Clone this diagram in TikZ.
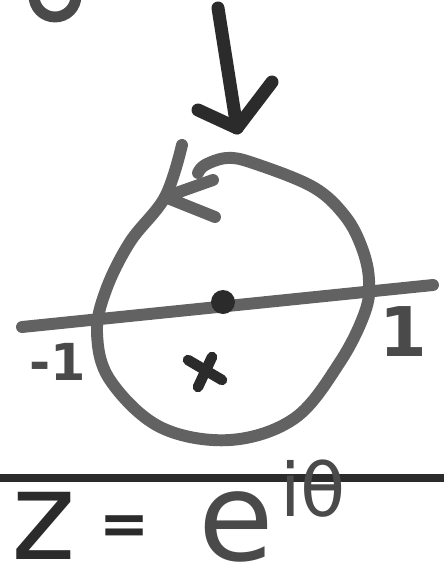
\documentclass[tikz,border=0pt]{standalone}
\usepackage{fontspec}
\usepackage{xcolor}
\usepackage{tikz}
\usetikzlibrary{positioning}
\setmainfont{DejaVu Sans}
\definecolor{Ink}{HTML}{2B2B2B}
\definecolor{Pencil}{HTML}{626262}
\definecolor{Soft}{HTML}{4A4A4A}

\begin{document}
\begin{tikzpicture}[
      x=0.02cm, y=-0.02cm,
      stroke/.style={draw=Pencil, line width=6.8pt, line cap=round, line join=round},
      heavy/.style={draw=Ink, line width=7.4pt, line cap=round, line join=round},
      lbl/.style={inner sep=0pt, text=Soft, font=\bfseries}
    ]
    \useasboundingbox (0,0) rectangle (444,575);
    \clip (0,0) rectangle (444,575);

    % stray letter cut off at the top
    \draw[stroke, draw=Soft, line width=6.2pt] (55,-4) circle (21);

    % unit circle, open at the arrow
    \draw[stroke] plot[smooth, tension=0.6] coordinates {
      (182,145) (165,197) (130,242) (106,290) (97,333) (110,380)
      (160,427) (230,440) (295,418) (340,362) (365,312) (369,280)
      (362,248) (345,216) (313,187) (253,163) (227,158) (205,165) (198,173)};
    \coordinate (tip) at (165,197);
    \draw[stroke] (213,180) -- (tip) -- (215,217);

    % real axis and origin
    \coordinate (west) at (22,327);
    \coordinate (east) at (433,285);
    \draw[stroke] (west) -- (east);
    \fill[Ink] (223,302) circle (12);

    % arrow from above
    \coordinate (start) at (218,8);
    \coordinate (head) at (237,128);
    \draw[heavy] (start) -- (head);
    \draw[heavy] (198,110) -- (head) -- (272,82);

    % pole
    \draw[heavy, line width=6pt] (188,360) -- (222,380);
    \draw[heavy, line width=6pt] (212,357) -- (198,387);

    \node[lbl, font=\bfseries\fontsize{29}{30}\selectfont] (neg) at (58,362) {-1};
    \node[lbl, font=\bfseries\fontsize{39}{40}\selectfont] (pos) at (403,332) {1};

    % formula under the rule
    \draw[draw=Ink, line width=4pt] (0,478) -- (444,478);
    \node[lbl, text=Ink, anchor=base, font=\fontsize{70}{70}\selectfont] (lhs) at (44,559) {z};
    \node[lbl, text=Ink, font=\bfseries\fontsize{34}{34}\selectfont] (eqsign) at (125,530) {=};
    \node[lbl, anchor=base, font=\fontsize{70}{70}\selectfont] (base) at (236,560) {e};
    \node[lbl, font=\fontsize{42}{42}\selectfont] (expo) at (313,489) {iθ};
  \end{tikzpicture}
\end{document}
